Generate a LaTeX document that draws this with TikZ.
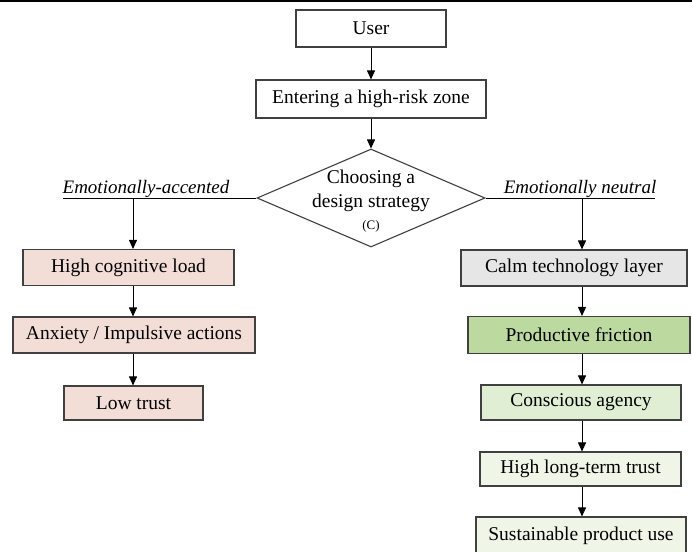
\documentclass[tikz,border=0pt]{standalone}
\usepackage{fontspec}
\setmainfont{Liberation Serif}
\usetikzlibrary{shapes.geometric,arrows.meta}
\definecolor{pinkfill}{HTML}{F2DDD7}
\definecolor{greyfill}{HTML}{E6E6E6}
\definecolor{greenA}{HTML}{BCD9A0}
\definecolor{greenB}{HTML}{E0EED4}
\definecolor{greenC}{HTML}{EFF5E7}
\definecolor{edge}{HTML}{404040}
\tikzset{
  x=1pt, y=-1pt,
  box/.style={draw=edge, line width=1.1pt, rectangle, inner sep=0pt,
    font=\fontsize{19.5}{23}\selectfont},
  lbl/.style={font=\fontsize{19}{23}\selectfont\itshape, anchor=base, inner sep=0pt},
  conn/.style={draw=black, line width=0.9pt},
  arr/.style={conn, -{Triangle[width=8pt,length=9pt]}},
}
\begin{document}
\begin{tikzpicture}
\useasboundingbox (0,0) rectangle (692,551);
\clip (0,0) rectangle (692,551);
\draw[line width=1.6pt] (0,1.2) -- (692,1.2);
% top
\node[box, minimum width=150pt, minimum height=37pt] (user) at (371,28.5) {User};
\node[box, minimum width=230pt, minimum height=38pt] (zone) at (371,99) {Entering a high-risk zone};
\node[diamond, draw=edge, line width=1.1pt, minimum width=228pt, minimum height=98pt, inner sep=0pt] (dia) at (371,198) {};
\node[align=center, inner sep=0pt, font=\fontsize{19.5}{24}\selectfont] (dtxt) at (371,191) {Choosing a\\design strategy};
\node[inner sep=0pt, font=\fontsize{13}{15}\selectfont] (dC) at (371,226) {(C)};
\draw[arr] (user) -- (zone);
\draw[arr] (zone) -- (dia.north);
% branch lines
\coordinate (lend) at (63,198);
\coordinate (rend) at (655,198);
\draw[conn] (dia.west) -- (lend);
\draw[conn] (dia.east) -- (rend);
\node[lbl] (lt) at (146,193) {Emotionally-accented};
\node[lbl] (rt) at (580,193) {Emotionally neutral};
\coordinate (la) at (133,198);
\coordinate (ra) at (582,198);
% left column
\node[box, fill=pinkfill, minimum width=211pt, minimum height=36pt] (hcl) at (128.5,267.5) {High cognitive load};
\node[box, fill=pinkfill, minimum width=242pt, minimum height=36pt] (anx) at (134,335) {Anxiety / Impulsive actions};
\node[box, fill=pinkfill, minimum width=139pt, minimum height=34pt] (low) at (133.5,403) {Low trust};
\draw[arr] (la) -- (la |- hcl.north);
\draw[arr] (la |- hcl.south) -- (la |- anx.north);
\draw[arr] (la |- anx.south) -- (la |- low.north);
% right column
\node[box, fill=greyfill, minimum width=226pt, minimum height=36pt] (calm) at (574,268) {Calm technology layer};
\node[box, fill=greenA, minimum width=222pt, minimum height=37pt] (prod) at (579,335) {Productive friction};
\node[box, fill=greenB, minimum width=200pt, minimum height=35pt] (cons) at (581,402.5) {Conscious agency};
\node[box, fill=greenC, minimum width=201pt, minimum height=34pt] (high) at (580.5,469) {High long-term trust};
\node[box, fill=greenC, minimum width=210pt, minimum height=38pt] (sus) at (581,536) {Sustainable product use};
\draw[arr] (ra) -- (ra |- calm.north);
\draw[arr] (ra |- calm.south) -- (ra |- prod.north);
\draw[arr] (ra |- prod.south) -- (ra |- cons.north);
\draw[arr] (ra |- cons.south) -- (ra |- high.north);
\draw[arr] (ra |- high.south) -- (ra |- sus.north);
\end{tikzpicture}
\end{document}
